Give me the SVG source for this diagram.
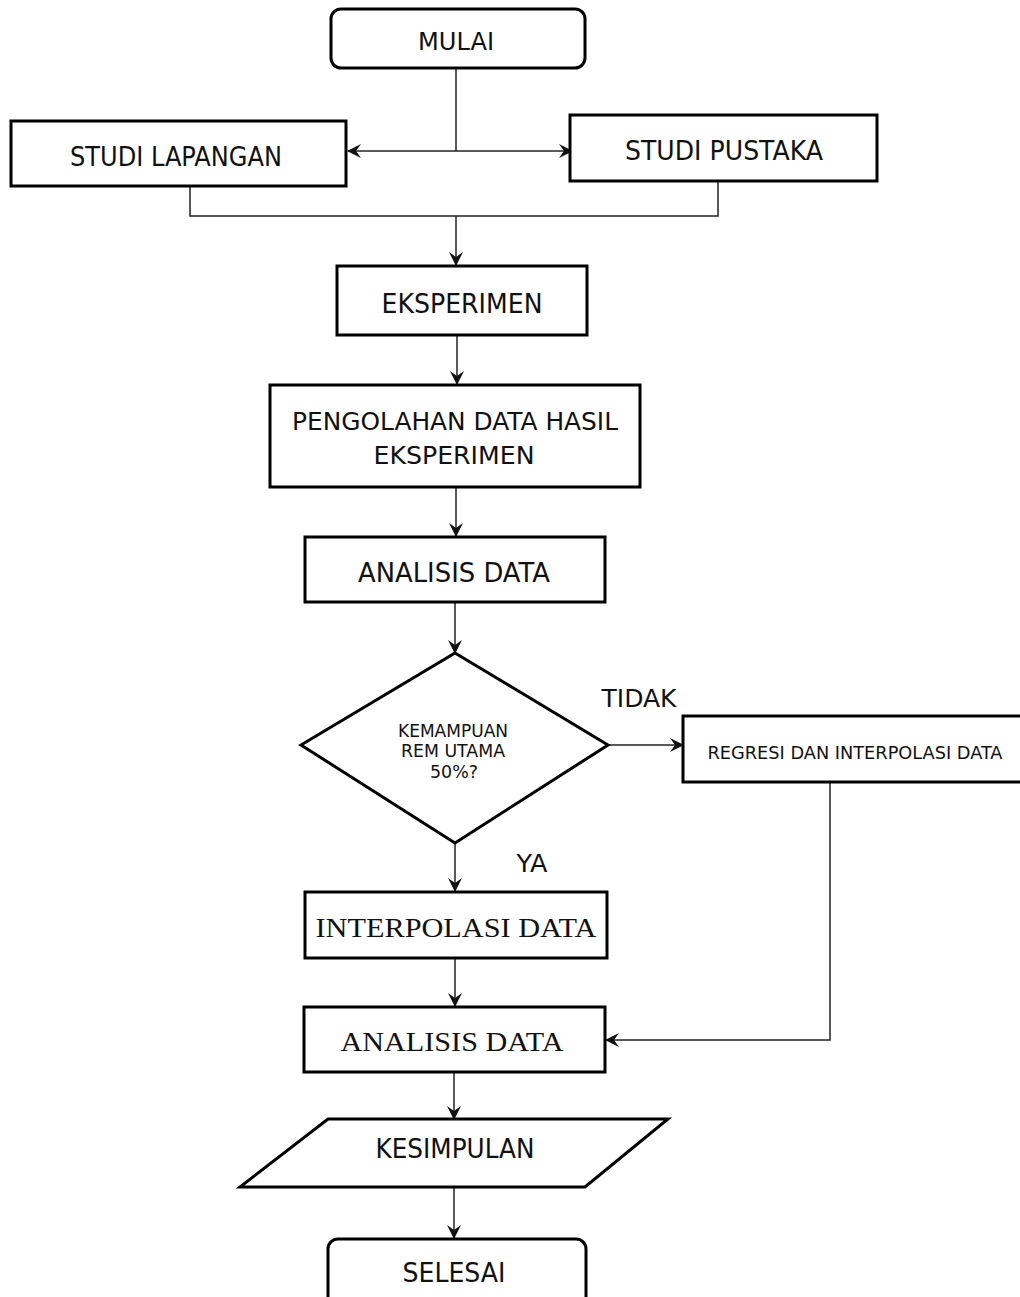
<svg xmlns="http://www.w3.org/2000/svg" width="1020" height="1297" viewBox="0 0 1020 1297">
<style>
.box{fill:#fff;stroke:#000;stroke-width:3}
.ln{fill:none;stroke:#222;stroke-width:1.5}
.t{font-family:"DejaVu Sans","Liberation Sans",sans-serif;fill:#111;text-anchor:middle}
.s{font-family:"Liberation Serif","DejaVu Serif",serif;fill:#111;text-anchor:middle}
</style>
<defs>
<marker id="ah" viewBox="0 0 14 14" refX="13" refY="7" markerWidth="14" markerHeight="14" markerUnits="userSpaceOnUse" orient="auto-start-reverse">
<path d="M0,0 L14,7 L0,14 L5,7 z" fill="#111"/>
</marker>
</defs>
<rect width="1020" height="1297" fill="#fff"/>
<g id="connectors">
<line class="ln" x1="456" y1="69" x2="456" y2="151"/>
<line class="ln" x1="348" y1="151" x2="572" y2="151" marker-start="url(#ah)" marker-end="url(#ah)"/>
<polyline class="ln" points="190,187 190,216 718,216 718,182"/>
<line class="ln" x1="456" y1="216" x2="456" y2="265" marker-end="url(#ah)"/>
<line class="ln" x1="457" y1="336" x2="457" y2="384" marker-end="url(#ah)"/>
<line class="ln" x1="456" y1="488" x2="456" y2="536" marker-end="url(#ah)"/>
<line class="ln" x1="455" y1="603" x2="455" y2="653" marker-end="url(#ah)"/>
<line class="ln" x1="608" y1="745" x2="683" y2="745" marker-end="url(#ah)"/>
<line class="ln" x1="455" y1="844" x2="455" y2="891" marker-end="url(#ah)"/>
<line class="ln" x1="455" y1="959" x2="455" y2="1006" marker-end="url(#ah)"/>
<polyline class="ln" points="830,783 830,1040 606,1040" marker-end="url(#ah)"/>
<line class="ln" x1="454" y1="1073" x2="454" y2="1119" marker-end="url(#ah)"/>
<line class="ln" x1="454" y1="1188" x2="454" y2="1238" marker-end="url(#ah)"/>
<text class="t" x="639" y="707" font-size="25" textLength="75" lengthAdjust="spacingAndGlyphs">TIDAK</text>
<text class="t" x="532" y="872" font-size="25" textLength="31" lengthAdjust="spacingAndGlyphs">YA</text>
</g>
<g id="mulai">
<rect class="box" x="331" y="9" width="254" height="59" rx="10"/>
<text class="t" x="456" y="50" font-size="25" textLength="76" lengthAdjust="spacingAndGlyphs">MULAI</text>
</g>
<g id="studi-lapangan">
<rect class="box" x="11" y="121" width="335" height="65"/>
<text class="t" x="176" y="166" font-size="26" textLength="212" lengthAdjust="spacingAndGlyphs">STUDI LAPANGAN</text>
</g>
<g id="studi-pustaka">
<rect class="box" x="570" y="115" width="307" height="66"/>
<text class="t" x="724" y="160" font-size="26" textLength="198" lengthAdjust="spacingAndGlyphs">STUDI PUSTAKA</text>
</g>
<g id="eksperimen">
<rect class="box" x="337" y="266" width="250" height="69"/>
<text class="t" x="462" y="313" font-size="26" textLength="161" lengthAdjust="spacingAndGlyphs">EKSPERIMEN</text>
</g>
<g id="pengolahan">
<rect class="box" x="270" y="385" width="370" height="102"/>
<text class="t" x="455" y="430" font-size="25" textLength="326" lengthAdjust="spacingAndGlyphs">PENGOLAHAN DATA HASIL</text>
<text class="t" x="454" y="464" font-size="25" textLength="161" lengthAdjust="spacingAndGlyphs">EKSPERIMEN</text>
</g>
<g id="analisis-1">
<rect class="box" x="305" y="537" width="300" height="65"/>
<text class="t" x="454" y="582" font-size="26" textLength="192" lengthAdjust="spacingAndGlyphs">ANALISIS DATA</text>
</g>
<g id="keputusan">
<polygon class="box" points="455,653 608,745 455,843 301,745" stroke-width="2.5"/>
<text class="t" x="453" y="737" font-size="18" textLength="110" lengthAdjust="spacingAndGlyphs">KEMAMPUAN</text>
<text class="t" x="453" y="757" font-size="18" textLength="104" lengthAdjust="spacingAndGlyphs">REM UTAMA</text>
<text class="t" x="454" y="778" font-size="18" textLength="48" lengthAdjust="spacingAndGlyphs">50%?</text>
</g>
<g id="regresi">
<rect class="box" x="683" y="716" width="340" height="66"/>
<text class="t" x="855" y="759" font-size="18" textLength="295" lengthAdjust="spacingAndGlyphs">REGRESI DAN INTERPOLASI DATA</text>
</g>
<g id="interpolasi">
<rect class="box" x="305" y="892" width="302" height="66"/>
<text class="s" x="456" y="937" font-size="28" textLength="281" lengthAdjust="spacingAndGlyphs">INTERPOLASI DATA</text>
</g>
<g id="analisis-2">
<rect class="box" x="304" y="1007" width="301" height="65"/>
<text class="s" x="452" y="1051" font-size="28" textLength="223" lengthAdjust="spacingAndGlyphs">ANALISIS DATA</text>
</g>
<g id="kesimpulan">
<polygon class="box" points="328,1119 668,1119 585,1187 240,1187"/>
<text class="t" x="455" y="1158" font-size="26" textLength="159" lengthAdjust="spacingAndGlyphs">KESIMPULAN</text>
</g>
<g id="selesai">
<rect class="box" x="328" y="1239" width="258" height="70" rx="10"/>
<text class="t" x="454" y="1282" font-size="26" textLength="103" lengthAdjust="spacingAndGlyphs">SELESAI</text>
</g>
</svg>
